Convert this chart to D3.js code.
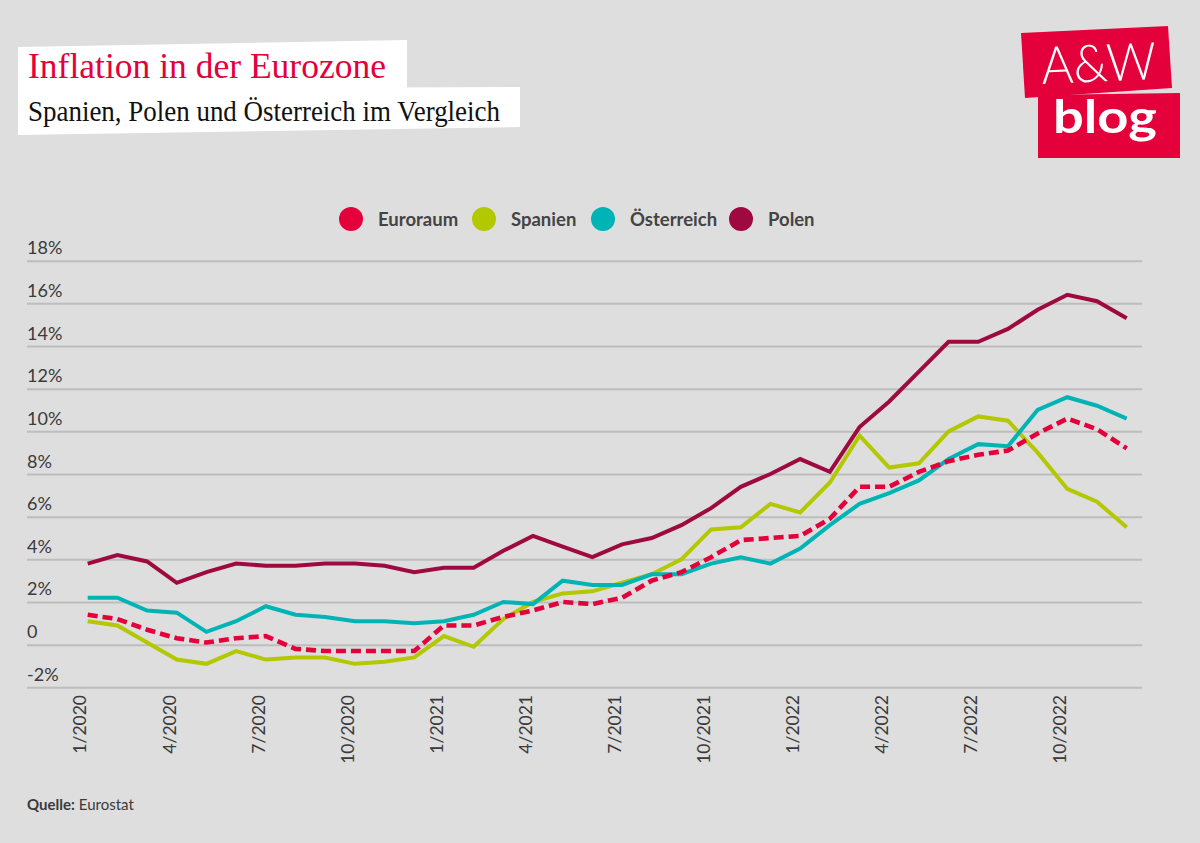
<!DOCTYPE html>
<html>
<head>
<meta charset="utf-8">
<script src="https://cdn.jsdelivr.net/npm/d3@7"></script>
<style>
  html, body { margin: 0; padding: 0; background: #dedede; }
  svg { display: block; }
</style>
</head>
<body>
<svg id="chart" width="1200" height="843"></svg>
<script>
// ---------- data ----------
const months = [
  "1/2020","2/2020","3/2020","4/2020","5/2020","6/2020","7/2020","8/2020","9/2020","10/2020","11/2020","12/2020",
  "1/2021","2/2021","3/2021","4/2021","5/2021","6/2021","7/2021","8/2021","9/2021","10/2021","11/2021","12/2021",
  "1/2022","2/2022","3/2022","4/2022","5/2022","6/2022","7/2022","8/2022","9/2022","10/2022","11/2022","12/2022"
];
const xTickLabels = ["1/2020","4/2020","7/2020","10/2020","1/2021","4/2021","7/2021","10/2021","1/2022","4/2022","7/2022","10/2022"];
const yTicks = [-2, 0, 2, 4, 6, 8, 10, 12, 14, 16, 18];

const euroraum = [1.4,1.2,0.7,0.3,0.1,0.3,0.4,-0.2,-0.3,-0.3,-0.3,-0.3,
                  0.9,0.9,1.3,1.6,2.0,1.9,2.2,3.0,3.4,4.1,4.9,5.0,
                  5.1,5.9,7.4,7.4,8.1,8.6,8.9,9.1,9.9,10.6,10.1,9.2];
const spanien  = [1.1,0.9,0.1,-0.7,-0.9,-0.3,-0.7,-0.6,-0.6,-0.9,-0.8,-0.6,
                  0.4,-0.1,1.2,2.0,2.4,2.5,2.9,3.3,4.0,5.4,5.5,6.6,
                  6.2,7.6,9.8,8.3,8.5,10.0,10.7,10.5,9.0,7.3,6.7,5.5];
const oesterreich = [2.2,2.2,1.6,1.5,0.6,1.1,1.8,1.4,1.3,1.1,1.1,1.0,
                  1.1,1.4,2.0,1.9,3.0,2.8,2.8,3.3,3.3,3.8,4.1,3.8,
                  4.5,5.6,6.6,7.1,7.7,8.7,9.4,9.3,11.0,11.6,11.2,10.6];
const polen    = [3.8,4.2,3.9,2.9,3.4,3.8,3.7,3.7,3.8,3.8,3.7,3.4,
                  3.6,3.6,4.4,5.1,4.6,4.1,4.7,5.0,5.6,6.4,7.4,8.0,
                  8.7,8.1,10.2,11.4,12.8,14.2,14.2,14.8,15.7,16.4,16.1,15.3];

const seriesNames = ["Euroraum","Spanien","Österreich","Polen"];
const seriesColors = ["#e4003b","#b3c800","#00b4b6","#9e0a3f"];

// ---------- setup ----------
const svg = d3.select("#chart");
const sans = "Lato, 'Open Sans', sans-serif";
const serif = "'Liberation Serif', 'DejaVu Serif', serif";

svg.append("rect").attr("width",1200).attr("height",843).attr("fill","#dedede");

const x = d3.scaleLinear().domain([0, months.length - 1]).range([87.7, 1126.7]);
const y = d3.scaleLinear().domain([-2, 18]).range([687.3, 260.7]);
const gridLeft = 27, gridRight = 1142;

// ---------- title ----------
svg.append("polygon").attr("points","18,47 407,40 407,90 18,90").attr("fill","#ffffff");
svg.append("polygon").attr("points","18,89 520,87 520,127 18,135").attr("fill","#ffffff");
svg.append("text").attr("x",28).attr("y",78)
  .attr("font-family",serif).attr("font-size",35).attr("fill","#e4003b")
  .attr("textLength",358).attr("lengthAdjust","spacingAndGlyphs")
  .text("Inflation in der Eurozone");
svg.append("text").attr("x",28).attr("y",121)
  .attr("font-family",serif).attr("font-size",30).attr("fill","#111111")
  .attr("textLength",472).attr("lengthAdjust","spacingAndGlyphs")
  .text("Spanien, Polen und Österreich im Vergleich");

// ---------- logo ----------
const logo = svg.append("g");
logo.append("polygon").attr("points","1021,33 1168,26 1172,88 1025,98").attr("fill","#e4003b");
logo.append("polygon").attr("points","1038,95 1180,93 1180,158 1038,158").attr("fill","#e4003b");
logo.append("text").attr("transform","translate(1042,84) rotate(-2.5)")
  .attr("font-family",sans).attr("font-weight",300).attr("font-size",52).attr("fill","#ffffff")
  .attr("textLength",115).attr("lengthAdjust","spacingAndGlyphs")
  .text("A&W");
logo.append("text").attr("x",1053).attr("y",133)
  .attr("font-family",sans).attr("font-weight",700).attr("font-size",46).attr("fill","#ffffff")
  .attr("textLength",104).attr("lengthAdjust","spacingAndGlyphs")
  .text("blog");

// ---------- legend ----------
const legendCircleX = [351, 484, 603, 741];
const legend = svg.append("g");
seriesNames.forEach((name, i) => {
  legend.append("circle").attr("cx", legendCircleX[i]).attr("cy", 219).attr("r", 12)
    .attr("fill", seriesColors[i]);
  legend.append("text").attr("x", legendCircleX[i] + 27).attr("y", 225.5)
    .attr("font-family", sans).attr("font-weight", 700).attr("font-size", 18.5)
    .attr("fill", "#444444").text(name);
});

// ---------- y grid + labels ----------
const yAxis = d3.axisLeft(y).tickValues(yTicks)
  .tickSize(-(gridRight - gridLeft))
  .tickFormat(d => d === 0 ? "0" : d + "%");
const gy = svg.append("g").attr("transform", `translate(${gridLeft},0)`).call(yAxis);
gy.select(".domain").remove();
gy.selectAll(".tick line").attr("stroke", "#bdbdbd").attr("stroke-width", 2);
gy.selectAll(".tick text")
  .attr("x", 0).attr("dy", -7).attr("text-anchor", "start")
  .attr("font-family", sans).attr("font-size", 18).attr("fill", "#3a3a3a");

// ---------- x labels ----------
const xTickIdx = xTickLabels.map(l => months.indexOf(l));
const xAxis = d3.axisBottom(x).tickValues(xTickIdx).tickSize(0)
  .tickFormat(i => months[i]);
const gx = svg.append("g").attr("transform", "translate(0,695)").call(xAxis);
gx.select(".domain").remove();
gx.selectAll(".tick text")
  .attr("transform", "rotate(-90)")
  .attr("x", 0).attr("y", 0).attr("dy", "-0.1em").attr("dx", 0)
  .attr("text-anchor", "end")
  .attr("font-family", sans).attr("font-size", 17.5).attr("fill", "#3a3a3a");

// ---------- lines ----------
const line = d3.line().x((d, i) => x(i)).y(d => y(d)).curve(d3.curveLinear);
const drawOrder = [
  {data: spanien, color: seriesColors[1], dash: null},
  {data: oesterreich, color: seriesColors[2], dash: null},
  {data: polen, color: seriesColors[3], dash: null},
  {data: euroraum, color: seriesColors[0], dash: "10,5"}
];
drawOrder.forEach(s => {
  const p = svg.append("path").datum(s.data)
    .attr("d", line).attr("fill", "none")
    .attr("stroke", s.color).attr("stroke-width", s.dash ? 4.6 : 4)
    .attr("stroke-linejoin", "miter");
  if (s.dash) p.attr("stroke-dasharray", s.dash);
});

// ---------- source ----------
const srcLabel = svg.append("text").attr("x", 27).attr("y", 810)
  .attr("font-family", sans).attr("font-size", 15).attr("font-weight", 700)
  .attr("fill", "#3a3a3a").text("Quelle:");
const labelW = srcLabel.node().getComputedTextLength();
svg.append("text").attr("x", 27 + labelW + 4).attr("y", 810)
  .attr("font-family", sans).attr("font-size", 15)
  .attr("fill", "#3a3a3a").text("Eurostat");
</script>
</body>
</html>
